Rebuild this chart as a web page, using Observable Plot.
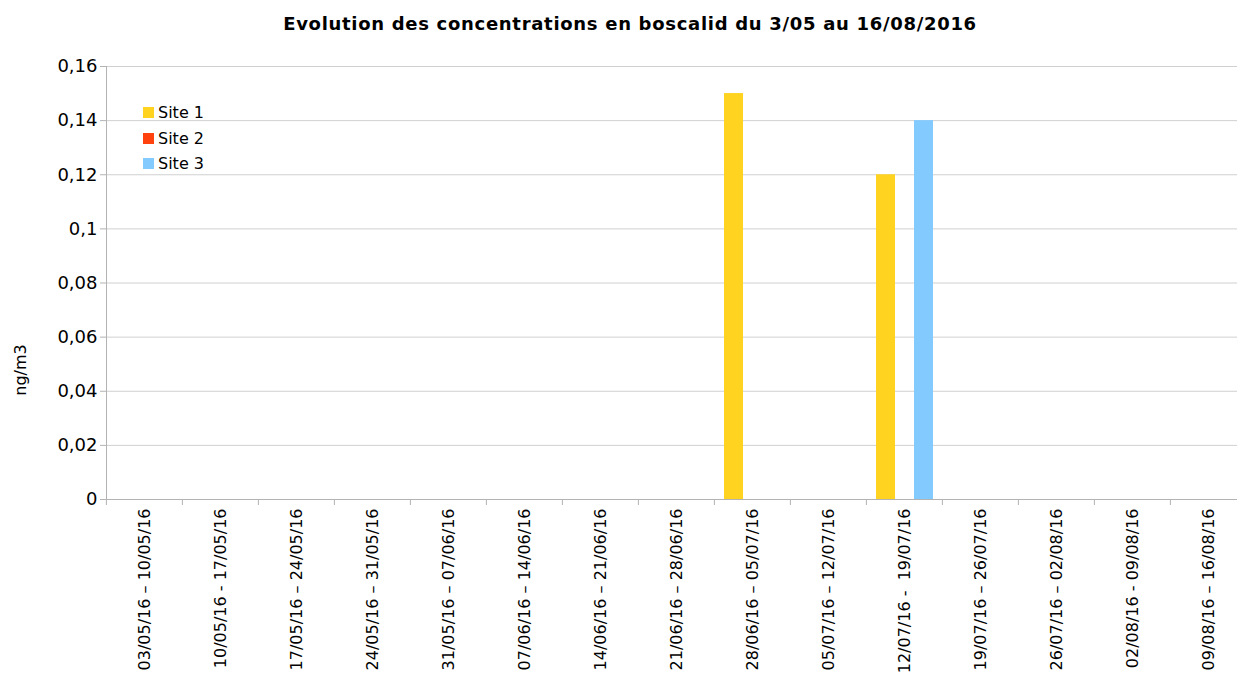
<!DOCTYPE html>
<html><head><meta charset="utf-8">
<script src="https://cdn.jsdelivr.net/npm/d3@7"></script>
<script src="https://cdn.jsdelivr.net/npm/@observablehq/plot@0.6"></script>
<style>
body{margin:0;background:#fff;font-family:"DejaVu Sans",sans-serif;color:#000;}
#wrap{position:relative;width:1237px;height:680px;overflow:hidden;}
#title{position:absolute;left:0;top:0;width:1260px;text-align:center;font-size:18px;font-weight:bold;letter-spacing:0.7px;line-height:48px;}
#chart{position:absolute;left:0;top:48px;}
#chart svg{max-width:none !important;}
#ylabel{position:absolute;left:20px;top:370px;transform:translate(-50%,-50%) rotate(-90deg);font-size:16px;white-space:nowrap;}
#legend{position:absolute;left:143px;top:100px;font-size:16px;}
.item{display:flex;align-items:center;height:25.5px;}
.sw{width:11px;height:11px;margin-right:4px;}
</style></head>
<body>
<div id="wrap">
<div id="title">Evolution des concentrations en boscalid du 3/05 au 16/08/2016</div>
<div id="chart"></div>
<div id="ylabel">ng/m3</div>
<div id="legend"></div>
</div>
<script>
const categories = [
  "03/05/16 – 10/05/16","10/05/16 - 17/05/16","17/05/16 – 24/05/16","24/05/16 – 31/05/16",
  "31/05/16 – 07/06/16","07/06/16 – 14/06/16","14/06/16 – 21/06/16","21/06/16 – 28/06/16",
  "28/06/16 – 05/07/16","05/07/16 – 12/07/16","12/07/16 -  19/07/16","19/07/16 – 26/07/16",
  "26/07/16 – 02/08/16","02/08/16 - 09/08/16","09/08/16 – 16/08/16"
];
const seriesNames = ["Site 1","Site 2","Site 3"];
const site1 = [0,0,0,0,0,0,0,0,0.15,0,0.12,0,0,0,0];
const site2 = [0,0,0,0,0,0,0,0,0,0,0,0,0,0,0];
const site3 = [0,0,0,0,0,0,0,0,0,0,0.14,0,0,0,0];
const colors = ["#FFD320","#FF420E","#83CAFF"];
const yTicks = [0,0.02,0.04,0.06,0.08,0.1,0.12,0.14,0.16];
const yTickLabels = ["0","0,02","0,04","0,06","0,08","0,1","0,12","0,14","0,16"];

const seriesValues = [site1, site2, site3];
const rows = categories.flatMap((c,i)=>seriesNames.map((s,j)=>({cat:c, site:s, value:seriesValues[j][i]})));

const W = 1247, H = 632, ML = 104;
const step = (W - ML) / categories.length;

const chart = Plot.plot({
  width: W, height: H,
  marginLeft: ML, marginRight: 0, marginTop: 18, marginBottom: 181,
  style: {fontFamily: "DejaVu Sans", fontSize: "16px", color: "#000", background: "transparent", overflow: "visible", maxWidth: "none"},
  fx: {domain: categories, padding: 0},
  x: {domain: seriesNames, paddingInner: 0, paddingOuter: 0.5, axis: null},
  y: {domain: [0, 0.16]},
  color: {domain: seriesNames, range: colors},
  marks: [
    Plot.gridY(yTicks.filter(d => d > 0), {stroke: "#d0d0d0", strokeOpacity: 1}),
    Plot.barY(rows, {fx: "cat", x: "site", y: "value", fill: "site"}),
    Plot.ruleY([0], {stroke: "#b3b3b3"}),
    Plot.axisY(yTicks, {tickFormat: d => yTickLabels[yTicks.indexOf(d)], tickSize: 6, tickPadding: 3, stroke: "#b3b3b3", fill: "#000", fontSize: 18, label: null}),
    Plot.frame({anchor: "left", facetAnchor: "left", stroke: "#b3b3b3"}),
    Plot.axisFx({anchor: "bottom", tickSize: 0, tickRotate: -90, tickPadding: 9, fill: "#000", fontSize: 16, label: null}),
    Plot.axisFx({anchor: "bottom", tickSize: 6, tickFormat: () => "", dx: -step/2, stroke: "#b3b3b3", label: null})
  ]
});
document.getElementById("chart").appendChild(chart);

const legend = document.getElementById("legend");
seriesNames.forEach((s,i)=>{
  const it = document.createElement("div"); it.className = "item";
  const sw = document.createElement("div"); sw.className = "sw"; sw.style.background = colors[i];
  const t = document.createElement("span"); t.textContent = s;
  it.appendChild(sw); it.appendChild(t); legend.appendChild(it);
});
</script>
</body></html>
